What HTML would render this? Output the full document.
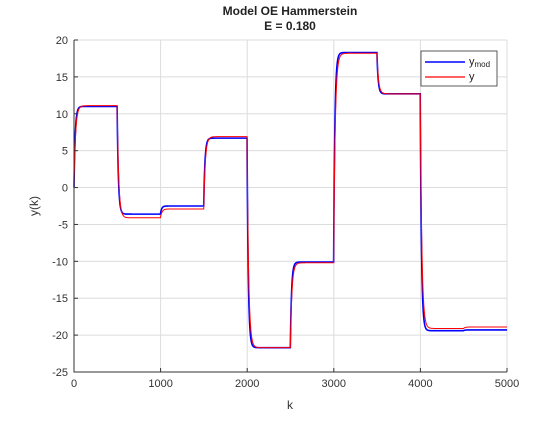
<!DOCTYPE html>
<html><head><meta charset="utf-8"><style>
body{margin:0;background:#fff;font-family:"Liberation Sans",sans-serif}
svg text{font-family:"Liberation Sans",sans-serif}
</style></head><body>
<svg width="560" height="420" xmlns="http://www.w3.org/2000/svg">
<g id="grid"></g>
<g id="lines"></g>
<g id="axes"></g>
<text x="290" y="15" text-anchor="middle" font-size="12" font-weight="bold" fill="#222">Model OE Hammerstein</text>
<text x="290" y="30" text-anchor="middle" font-size="12" font-weight="bold" fill="#222">E = 0.180</text>
<text x="290" y="409" text-anchor="middle" font-size="12" fill="#333">k</text>
<text transform="translate(38,206) rotate(-90)" text-anchor="middle" font-size="12" fill="#333">y(k)</text>
<g>
<rect x="421" y="51" width="76" height="35" fill="#fff" stroke="#333" stroke-width="0.8"/>
<line x1="425" y1="62" x2="465" y2="62" stroke="#0000ff" stroke-width="1.5"/>
<text x="469" y="65" font-size="11" fill="#222">y<tspan font-size="8" dy="2">mod</tspan></text>
<line x1="425" y1="77" x2="465" y2="77" stroke="#ff0000" stroke-width="1.2"/>
<text x="469" y="80" font-size="11" fill="#222">y</text>
</g>
</svg>
<script>
const segLen = 500;
const ymodLevels = [11.0, -3.6, -2.5, 6.7, -21.7, -10.1, 18.3, 12.7, -19.4, -19.3];
const yLevels = [11.1, -4.1, -2.9, 6.9, -21.7, -10.2, 18.2, 12.7, -19.1, -18.9];
const xTicks = [0, 1000, 2000, 3000, 4000, 5000];
const yTicks = [20, 15, 10, 5, 0, -5, -10, -15, -20, -25];
const L=74,R=507,T=40,B=372;
const xs=k=>L+(k/5000)*(R-L);
const ys=v=>T+(20-v)/45*(B-T);
const NS='http://www.w3.org/2000/svg';
function mk(tag,attrs,parent){const e=document.createElementNS(NS,tag);for(const a in attrs)e.setAttribute(a,attrs[a]);parent.appendChild(e);return e;}
const grid=document.getElementById('grid'),axes=document.getElementById('axes'),lines=document.getElementById('lines');
xTicks.forEach(t=>{
 const g=mk('line',{x1:xs(t),x2:xs(t),y1:T,y2:B,stroke:'#dcdcdc','stroke-width':1},grid);
 
 
 mk('line',{x1:xs(t),x2:xs(t),y1:B,y2:B-4,stroke:'#333'},axes);
 const tx=mk('text',{x:xs(t),y:B+15,'text-anchor':'middle','font-size':11,fill:'#333'},axes);
 tx.textContent=t;
 
 
});
yTicks.forEach(t=>{
 const g=mk('line',{x1:L,x2:R,y1:ys(t),y2:ys(t),stroke:'#dcdcdc','stroke-width':1},grid);
 
 
 mk('line',{x1:L,x2:L+4,y1:ys(t),y2:ys(t),stroke:'#333'},axes);
 const tx=mk('text',{x:L-6,y:ys(t)+4,'text-anchor':'end','font-size':11,fill:'#333'},axes);
 tx.textContent=t;
 
 
});
const ax=mk('path',{d:`M${L},${T}V${B}H${R}`,fill:'none',stroke:'#333','stroke-width':1},axes);


function series(levels,tau){
 let v=0,pts=[xs(0).toFixed(2)+','+ys(0).toFixed(2)];
 for(let k=2;k<=5000;k+=2){
  const s=levels[Math.min(Math.floor(k/segLen),levels.length-1)];
  v+= (s-v)*(1-Math.exp(-2/tau));
  pts.push(xs(k).toFixed(2)+','+ys(v).toFixed(2));
 }
 return 'M'+pts.join('L');
}
const p1=mk('path',{d:series(ymodLevels,14),fill:'none',stroke:'#0000ff','stroke-width':1.6},lines);


const p2=mk('path',{d:series(yLevels,18),fill:'none',stroke:'#ff0000','stroke-width':1},lines);


</script>
</body></html>
